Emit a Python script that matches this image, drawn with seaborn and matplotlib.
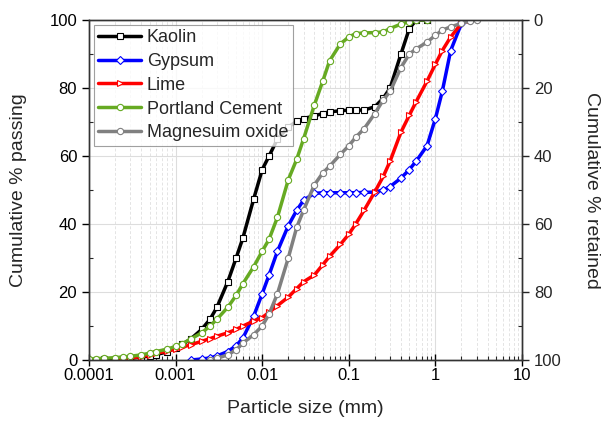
import numpy as np
import pandas as pd
import matplotlib
matplotlib.use('Agg')
import matplotlib.pyplot as plt
import matplotlib.ticker as mticker
import seaborn as sns

nan = np.nan

# sieve sizes (mm)
size = [0.0001, 0.00012, 0.00015, 0.0002, 0.00025, 0.0003, 0.0004, 0.0005, 0.0006, 0.0008,
        0.001, 0.0012, 0.0015, 0.002, 0.0025, 0.003, 0.004, 0.005, 0.006, 0.008,
        0.01, 0.012, 0.015, 0.02, 0.025, 0.03, 0.04, 0.05, 0.06, 0.08,
        0.1, 0.12, 0.15, 0.2, 0.25, 0.3, 0.4, 0.5, 0.6, 0.8,
        1.0, 1.2, 1.5, 2.0, 2.5, 3.0]

kaolin = [nan, 0.1, 0.2, 0.3, 0.4, 0.5, 0.8, 1.2, 1.6, 2.4,
          3.5, 4.6, 6.2, 9.0, 12.0, 15.5, 23.0, 30.0, 36.0, 47.5,
          56.0, 60.0, 65.0, 68.5, 70.2, 71.0, 71.8, 72.5, 73.0, 73.3,
          73.5, 73.5, 73.5, 74.5, 77.0, 80.0, 90.0, 97.5, 100.0, 100.0,
          nan, nan, nan, nan, nan, nan]

gypsum = [nan, nan, nan, nan, nan, nan, nan, nan, nan, nan,
          nan, nan, 0.0, 0.3, 0.6, 1.2, 2.5, 4.2, 6.5, 13.0,
          19.5, 25.0, 32.0, 39.5, 44.0, 47.0, 49.0, 49.2, 49.2, 49.2,
          49.2, 49.2, 49.3, 49.4, 50.0, 51.0, 53.5, 56.0, 58.5, 63.0,
          71.0, 79.0, 91.0, 99.0, 100.0, nan]

lime = [nan, nan, nan, 0.0, 0.3, 0.6, 1.0, 1.5, 2.0, 2.6,
        3.2, 3.8, 4.5, 5.5, 6.3, 7.0, 8.0, 9.0, 10.0, 11.5,
        12.5, 14.0, 16.0, 18.5, 21.0, 23.0, 25.0, 28.0, 30.5, 34.0,
        37.0, 40.0, 44.0, 49.5, 54.0, 58.5, 67.0, 72.0, 76.0, 82.0,
        87.0, 91.0, 95.0, 99.0, 100.0, nan]

cement = [0.3, 0.4, 0.5, 0.7, 0.9, 1.1, 1.5, 2.0, 2.5, 3.2,
          4.0, 4.8, 6.2, 8.0, 10.0, 12.0, 15.5, 19.0, 22.5, 27.5,
          32.0, 35.5, 42.0, 53.0, 59.0, 65.0, 75.0, 82.0, 88.0, 93.0,
          95.0, 96.0, 96.2, 96.3, 96.5, 97.5, 98.8, 99.5, 100.0, 100.0,
          nan, nan, nan, nan, nan, nan]

mgo = [nan, nan, nan, nan, nan, nan, nan, nan, nan, nan,
       nan, nan, nan, nan, 0.0, 0.5, 1.5, 3.0, 5.0, 7.5,
       10.0, 13.5, 19.5, 30.0, 39.0, 44.0, 51.5, 55.0, 57.0, 60.5,
       63.0, 65.5, 68.0, 72.5, 76.5, 79.0, 86.0, 90.0, 91.5, 93.5,
       95.5, 97.0, 98.0, 99.0, 99.7, 100.0]

series = [
    ('Kaolin', kaolin, 'black', 's'),
    ('Gypsum', gypsum, '#0000ff', 'D'),
    ('Lime', lime, '#ff0000', '>'),
    ('Portland Cement', cement, '#66aa22', 'o'),
    ('Magnesuim oxide', mgo, '#808080', 'o'),
]

sns.set_style('white')
plt.rcParams['font.family'] = ['Liberation Sans', 'DejaVu Sans']

fig = plt.figure(figsize=(6.03, 4.34), dpi=100)
ax = fig.add_axes([0.1476, 0.1705, 0.7181, 0.7834])

for name, vals, col, mk in series:
    df = pd.DataFrame({'size': size, 'passing': vals}).dropna()
    sns.lineplot(data=df, x='size', y='passing', ax=ax, color=col, linewidth=2.5,
                 marker=mk, markersize=4.5, markerfacecolor='white',
                 markeredgecolor=col, markeredgewidth=0.8, estimator=None,
                 sort=False, label=name)

ax.set_xscale('log')
ax.set_xlim(0.0001, 10)
ax.set_ylim(0, 100)
ax.set_xticks([0.0001, 0.001, 0.01, 0.1, 1, 10])
ax.set_xticklabels(['0.0001', '0.001', '0.01', '0.1', '1', '10'])
ax.xaxis.set_minor_locator(mticker.LogLocator(base=10, subs=np.arange(2, 10), numticks=20))
ax.xaxis.set_minor_formatter(mticker.NullFormatter())
ax.set_yticks([0, 20, 40, 60, 80, 100])
ax.yaxis.set_minor_locator(mticker.MultipleLocator(10))

ax.grid(which='major', axis='both', color='#dddddd', linewidth=0.8)
ax.grid(which='minor', axis='x', color='#e4e4e4', linewidth=0.7, linestyle=(0, (3, 2)))
ax.set_axisbelow(True)

for sp in ax.spines.values():
    sp.set_color('#333333')
    sp.set_linewidth(1.0)

ax.tick_params(axis='y', which='major', direction='out', length=5, width=1, labelsize=12,
               left=True, colors='black')
ax.tick_params(axis='x', which='major', direction='inout', length=8, width=1, labelsize=12,
               bottom=True, colors='black', pad=2)
ax.tick_params(which='minor', direction='in', length=3, width=0.8, bottom=True, left=True)

ax.set_xlabel('Particle size (mm)', fontsize=14, labelpad=12)
ax.set_ylabel('Cumulative % passing', fontsize=14, labelpad=16)

ax2 = ax.twinx()
ax2.set_ylim(100, 0)
ax2.set_yticks([0, 20, 40, 60, 80, 100])
ax2.yaxis.set_minor_locator(mticker.MultipleLocator(10))
ax2.tick_params(which='major', direction='out', length=5, width=1, labelsize=12, right=True)
ax2.tick_params(which='minor', direction='in', length=3, width=0.8, right=True)
ax2.set_ylabel('Cumulative % retained', fontsize=14, rotation=-90, labelpad=28)
for sp in ax2.spines.values():
    sp.set_color('#333333')
    sp.set_linewidth(1.0)

leg = ax.legend(loc='upper left', fontsize=13, frameon=True, fancybox=False,
                edgecolor='#888888', borderpad=0.25, labelspacing=0.38,
                handlelength=2.4, handletextpad=0.3, borderaxespad=0.25)
leg.get_frame().set_linewidth(0.8)

fig.savefig('out.png', dpi=100)
